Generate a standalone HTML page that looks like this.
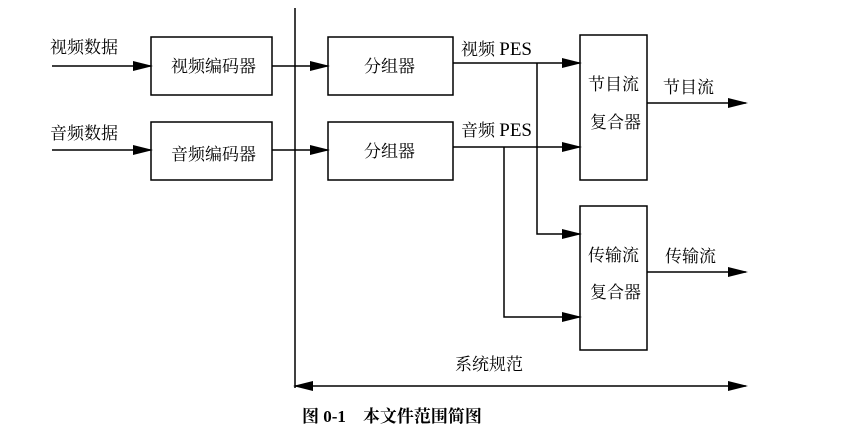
<!DOCTYPE html><html><head><meta charset="utf-8"><style>body{margin:0;background:#fff}svg text{font-family:"Liberation Serif","Noto Serif CJK SC",serif;fill:#000}</style></head><body>
<svg width="841" height="432" xmlns="http://www.w3.org/2000/svg">
<defs><marker id="a" markerWidth="20" markerHeight="10" refX="18" refY="5" orient="auto" markerUnits="userSpaceOnUse"><path d="M0,0L20,5L0,10z" fill="#000"/></marker>
<marker id="b" markerWidth="20" markerHeight="10" refX="2" refY="5" orient="auto" markerUnits="userSpaceOnUse"><path d="M20,0L0,5L20,10z" fill="#000"/></marker></defs>
<g stroke="#000" stroke-width="1.5" fill="none">
<rect x="151" y="37" width="121" height="58"/><rect x="151" y="122" width="121" height="58"/>
<rect x="328" y="37" width="125" height="58"/><rect x="328" y="122" width="125" height="58"/>
<rect x="580" y="35" width="67" height="145"/><rect x="580" y="206" width="67" height="144"/>
<line x1="295" y1="8" x2="295" y2="388"/>
<line x1="52" y1="66" x2="151" y2="66" marker-end="url(#a)"/>
<line x1="52" y1="150" x2="151" y2="150" marker-end="url(#a)"/>
<line x1="272" y1="66" x2="328" y2="66" marker-end="url(#a)"/>
<line x1="272" y1="150" x2="328" y2="150" marker-end="url(#a)"/>
<line x1="453" y1="63" x2="580" y2="63" marker-end="url(#a)"/>
<line x1="453" y1="147" x2="580" y2="147" marker-end="url(#a)"/>
<polyline points="537,63 537,234 580,234" marker-end="url(#a)"/>
<polyline points="504,147 504,317 580,317" marker-end="url(#a)"/>
<line x1="647" y1="103" x2="746" y2="103" marker-end="url(#a)"/>
<line x1="647" y1="272" x2="746" y2="272" marker-end="url(#a)"/>
<line x1="295" y1="386" x2="746" y2="386" marker-start="url(#b)" marker-end="url(#a)"/>
</g>
<g font-size="17">
<text x="50" y="53">视频数据</text><text x="50" y="139">音频数据</text>
<text x="171" y="72">视频编码器</text><text x="171" y="160">音频编码器</text>
<text x="364" y="72">分组器</text><text x="364" y="157">分组器</text>
<text x="461" y="55">视频 <tspan font-size="19">PES</tspan></text><text x="461" y="136">音频 <tspan font-size="19">PES</tspan></text>
<text x="588" y="90">节目流</text><text x="590" y="128">复合器</text>
<text x="588" y="261">传输流</text><text x="590" y="298">复合器</text>
<text x="663" y="93">节目流</text><text x="665" y="262">传输流</text>
<text x="455" y="370">系统规范</text>
<text x="302" y="422" font-weight="bold">图 0-1　本文件范围简图</text>
</g></svg></body></html>
